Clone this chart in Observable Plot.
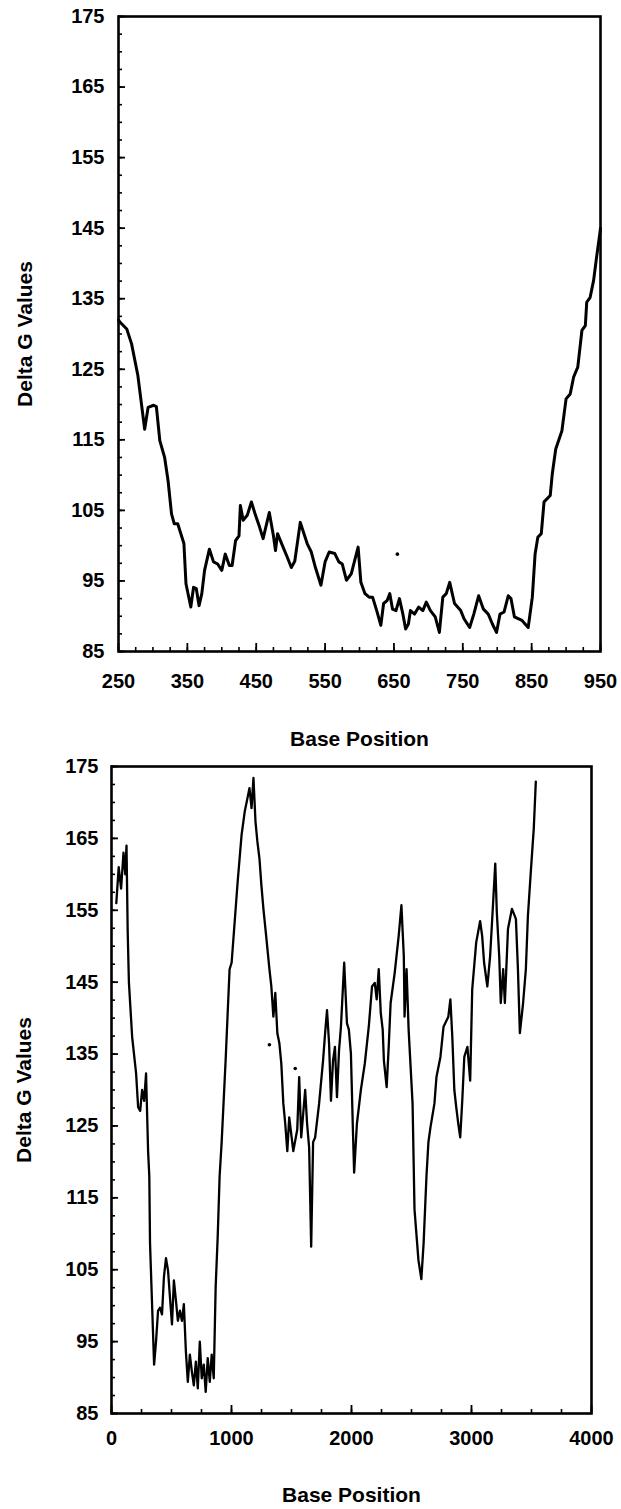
<!DOCTYPE html>
<html><head><meta charset="utf-8">
<script src="https://cdn.jsdelivr.net/npm/d3@7"></script>
<script src="https://cdn.jsdelivr.net/npm/@observablehq/plot@0.6"></script>
<style>
html,body{margin:0;padding:0;background:#fff;}
#wrap{width:621px;height:1509px;overflow:hidden;background:#fff}
svg{display:block}
</style></head><body><div id="wrap"></div>
<script>
// ---------- Data: top panel (bases 250–950) ----------
const topPos = [250,252,262,269,278,288,293,301,305,310,317,322,327,331,336,345,348,355,359,363,367,371,375,382,388,394,400,405,411,415,420,425,427,431,437,443,449,455,460,469,475,478,481,489,495,501,506,514,524,530,536,544,550,556,564,570,575,581,588,598,602,608,614,619,625,631,635,640,644,648,653,658,663,667,671,674,680,686,692,697,703,710,716,721,726,731,738,747,752,760,766,773,780,787,793,799,804,810,816,820,825,836,845,851,855,859,864,868,877,880,885,894,900,906,911,917,923,928,930,935,940,945,949,950];
const topDG = [132,131.7,130.7,128.6,124.2,116.5,119.6,119.9,119.7,114.9,112.5,109.2,104.5,103.1,103.1,100.3,94.6,91.3,94.1,93.9,91.5,93.2,96.5,99.5,97.7,97.4,96.5,98.8,97.2,97.2,100.7,101.4,105.7,103.6,104.3,106.2,104.3,102.6,101,104.7,101.4,99.3,101.7,99.8,98.4,96.9,97.8,103.3,100.3,99.1,96.9,94.4,97.7,99.1,98.9,97.7,97.4,95.1,96,99.8,94.8,93.2,92.7,92.7,90.8,88.7,91.8,92.2,93.2,91,90.8,92.5,90.3,88.2,88.9,90.8,90.3,91.3,90.8,92,90.8,89.9,87.7,92.7,93.2,94.8,91.8,90.8,89.6,88.4,90.3,92.9,91,90.3,88.9,87.7,90.3,90.6,92.9,92.5,89.9,89.4,88.4,92.7,98.8,101.2,101.7,106.2,107.1,110.2,113.7,116.3,120.8,121.5,123.9,125.3,130.5,131.2,134.5,135.2,137.6,141.4,144.2,145];
const topDotPos = [655];
const topDotDG = [98.8];
const topXTicks = [250,350,450,550,650,750,850,950];

// ---------- Data: bottom panel (bases 0–4000) ----------
const botPos = [40,60,80,100,115,125,135,145,172,205,222,239,255,272,288,305,315,321,338,355,371,388,404,421,437,454,471,487,504,520,537,553,570,587,603,620,636,653,670,686,703,719,736,752,769,785,802,819,835,852,868,885,901,918,951,984,1001,1051,1084,1110,1133,1150,1167,1183,1200,1216,1233,1249,1266,1289,1316,1332,1349,1365,1382,1399,1415,1432,1448,1465,1481,1515,1548,1564,1581,1614,1630,1647,1664,1680,1697,1730,1763,1780,1796,1813,1829,1846,1862,1879,1896,1912,1939,1962,1978,1995,2012,2022,2045,2078,2111,2144,2171,2194,2210,2227,2244,2260,2270,2293,2310,2326,2360,2393,2416,2436,2442,2459,2476,2509,2525,2558,2582,2601,2625,2641,2658,2691,2708,2741,2767,2807,2824,2840,2857,2873,2890,2906,2923,2940,2966,2989,3006,3039,3072,3089,3105,3132,3155,3171,3198,3211,3231,3244,3264,3278,3304,3337,3370,3387,3403,3430,3453,3470,3496,3519,3536];
const botDG = [156,161,158,163,160,164,152,145,137.4,132.3,127.6,127.1,130,128.5,132.3,121.5,118,108.7,100.2,91.8,95,99.3,99.7,98.8,104,106.6,104.9,101.2,97.4,103.5,100.7,97.9,99.3,97.9,100.2,93.6,89.4,93.2,90.8,88.9,92.2,88.5,95,89.9,91.8,88,92.7,89.4,93.2,89.9,102.6,109.6,118,122.75,134.1,146.8,147.7,158.9,165.5,168.7,170.6,172,169.2,173.4,167.3,164.5,162.2,158.5,155.2,151.4,146.8,144.4,140.2,143.5,137.9,136.5,133.7,128.1,125.3,121.5,126.2,121.5,124.5,131.8,123.4,130,125.3,122,108.2,122.75,123.4,128.1,134.1,137.9,141.1,136.5,128.5,134.1,136,129,135.5,138.8,147.7,139.3,138.4,135.1,124.3,118.5,125.3,130,133.7,138.8,144.4,144.9,142.6,146.8,140.7,138.4,134.1,130.4,136,142.1,146.3,151.4,155.7,148.6,140.2,146.8,138.4,128.1,113.4,106.3,103.7,108.7,118.1,122.75,124.8,128.1,131.8,134.6,138.8,140.2,142.6,137.4,130,127.6,125.3,123.4,128.5,134.6,136,131.3,144,150.5,153.5,151.4,147.7,144.4,148.6,153.3,161.5,154.7,148.6,142.1,146.8,142.1,152.4,155.2,153.8,146.8,137.9,142.1,146.8,154.2,160.8,166.4,172.9];
const botDotPos = [1316,1531];
const botDotDG = [136.3,133];
const botXTicks = [0,1000,2000,3000,4000];

// ---------- Shared ----------
const yTicks = [85,95,105,115,125,135,145,155,165,175];
const yLabel = "Delta G Values";
const xLabel = "Base Position";

function panel(o) {
  const font = "'Liberation Sans', Arial, Helvetica, sans-serif";
  const fw = 621 - o.ml - o.mr;          // frame width (px)
  const fh = o.height - o.mt - o.mb;     // frame height (px)
  return Plot.plot({
    width: 621,
    height: o.height,
    marginTop: o.mt, marginRight: o.mr, marginBottom: o.mb, marginLeft: o.ml,
    style: {fontFamily: font, fontWeight: "bold", fontSize: "20px", color: "#000", background: "#fff", overflow: "visible"},
    x: {domain: o.xDomain, axis: null},
    y: {domain: [85, 175], axis: null},
    marks: [
      Plot.axisX({ticks: o.xTicks, tickSize: 0, tickPadding: o.xPad, tickFormat: d => String(d), label: null}),
      Plot.axisY({ticks: yTicks, tickSize: 0, tickPadding: o.yPad, tickFormat: d => String(d), label: null}),
      // inward tick marks
      Plot.ruleX(o.xMinor, {x: d => d, insetTop: fh - 4, strokeWidth: 1.6}),
      Plot.ruleX(o.xTicks, {x: d => d, insetTop: fh - 8, strokeWidth: 1.8}),
      Plot.ruleY(d3.range(85, 175.1, 2.5), {y: d => d, insetRight: fw - 4, strokeWidth: 1.6}),
      Plot.ruleY(yTicks, {y: d => d, insetRight: fw - 7, strokeWidth: 1.8}),
      Plot.frame({strokeWidth: 2.6}),
      Plot.line(o.pos, {x: o.pos, y: o.dg, stroke: "#000", strokeWidth: o.sw, strokeLinejoin: "round"}),
      Plot.dot(o.dotPos, {x: o.dotPos, y: o.dotDG, r: 1.8, fill: "#000", stroke: null}),
      Plot.text([xLabel], {text: d => d, frameAnchor: "bottom", dy: o.xLabelDy, fontSize: 21, fontWeight: "bold", textAnchor: "middle", lineAnchor: "middle"}),
      Plot.text([yLabel], {text: d => d, frameAnchor: "left", dx: o.yLabelDx, rotate: -90, fontSize: 21, fontWeight: "bold", textAnchor: "middle", lineAnchor: "middle"})
    ]
  });
}

const wrap = document.getElementById("wrap");
wrap.appendChild(panel({
  height: 755, mt: 16, mr: 21, mb: 104, ml: 118,
  xDomain: [250, 950], xTicks: topXTicks, xMinor: d3.range(250, 951, 25),
  pos: topPos, dg: topDG, dotPos: topDotPos, dotDG: topDotDG, sw: 3,
  xPad: 22, yPad: 14, xLabelDy: 88, yLabelDx: -93
}));
wrap.appendChild(panel({
  height: 754, mt: 11, mr: 30, mb: 96, ml: 111,
  xDomain: [0, 4000], xTicks: botXTicks, xMinor: d3.range(0, 4001, 250),
  pos: botPos, dg: botDG, dotPos: botDotPos, dotDG: botDotDG, sw: 2.3,
  xPad: 17, yPad: 13, xLabelDy: 82, yLabelDx: -87
}));
</script>
</body></html>
